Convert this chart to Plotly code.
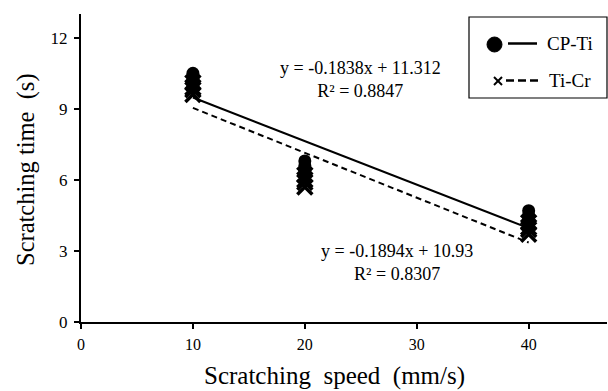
import plotly.graph_objects as go

# ---- data ----
speeds_cp = [10, 10, 10, 10, 20, 20, 20, 20, 40, 40, 40, 40]
times_cp = [10.5, 10.3, 10.1, 10.0, 6.8, 6.6, 6.4, 6.3, 4.7, 4.5, 4.3, 4.1]
speeds_ticr = [10, 10, 10, 10, 20, 20, 20, 20, 40, 40, 40, 40]
times_ticr = [10.1, 9.9, 9.8, 9.6, 6.2, 6.0, 5.9, 5.7, 4.2, 4.0, 3.9, 3.7]
fit_cp = (-0.1838, 11.312)
fit_ticr = (-0.1894, 10.93)
fit_x = [10, 40]
x_ticks = [0, 10, 20, 30, 40]
y_ticks = [0, 3, 6, 9, 12]
series_names = ["CP-Ti", "Ti-Cr"]
eq_texts = ["y = -0.1838x + 11.312<br>R² = 0.8847", "y = -0.1894x + 10.93<br>R² = 0.8307"]
x_title = "Scratching  speed  (mm/s)"
y_title = "Scratching time  (s)"

FONT = "Liberation Serif, Times New Roman, serif"

fig = go.Figure()

# trendlines
fig.add_trace(go.Scatter(x=fit_x, y=[fit_cp[0] * v + fit_cp[1] for v in fit_x],
                         mode="lines", line=dict(color="black", width=2),
                         showlegend=False, hoverinfo="skip"))
fig.add_trace(go.Scatter(x=fit_x, y=[fit_ticr[0] * v + fit_ticr[1] for v in fit_x],
                         mode="lines", line=dict(color="black", width=2, dash="6px,4px"),
                         showlegend=False, hoverinfo="skip"))

# points
fig.add_trace(go.Scatter(x=speeds_cp, y=times_cp, mode="markers", name=series_names[0],
                         marker=dict(symbol="circle", size=13, color="black"),
                         showlegend=False))
fig.add_trace(go.Scatter(x=speeds_ticr, y=times_ticr, mode="markers", name=series_names[1],
                         marker=dict(symbol="x-thin", size=15, color="black",
                                     line=dict(color="black", width=3.5)),
                         showlegend=False))

# equation annotations
fig.add_annotation(x=25.0, y=10.25, xref="x", yref="y", text=eq_texts[0], showarrow=False,
                   font=dict(family=FONT, size=18, color="black"), align="center")
fig.add_annotation(x=28.2, y=2.5, xref="x", yref="y", text=eq_texts[1], showarrow=False,
                   font=dict(family=FONT, size=18, color="black"), align="center")

# custom legend box (pixel positions converted to paper coords)
W, H = 608, 391
ml, mr, mt, mb = 81, 1, 14, 69
pw, ph = W - ml - mr, H - mt - mb

def px(xp):
    return (xp - ml) / pw

def py(yp):
    return (H - mb - yp) / ph

fig.add_shape(type="rect", xref="paper", yref="paper",
              x0=px(469), x1=px(607), y0=py(98), y1=py(17),
              line=dict(color="black", width=1.2), fillcolor="white")
# row 1: circle + solid line
fig.add_shape(type="circle", xref="paper", yref="paper",
              x0=px(487), x1=px(502), y0=py(52), y1=py(37),
              line=dict(color="black", width=1), fillcolor="black")
fig.add_shape(type="line", xref="paper", yref="paper",
              x0=px(508), x1=px(537), y0=py(43.5), y1=py(43.5),
              line=dict(color="black", width=2.5))
fig.add_annotation(x=px(545), y=py(44), xref="paper", yref="paper", text=series_names[0],
                   showarrow=False, xanchor="left", yanchor="middle",
                   font=dict(family=FONT, size=19, color="black"))
# row 2: cross + dashed line
fig.add_shape(type="line", xref="paper", yref="paper",
              x0=px(494), x1=px(502), y0=py(77), y1=py(85),
              line=dict(color="black", width=2))
fig.add_shape(type="line", xref="paper", yref="paper",
              x0=px(494), x1=px(502), y0=py(85), y1=py(77),
              line=dict(color="black", width=2))
fig.add_shape(type="line", xref="paper", yref="paper",
              x0=px(506), x1=px(540), y0=py(80.5), y1=py(80.5),
              line=dict(color="black", width=2.5, dash="8px,4px"))
fig.add_annotation(x=px(547), y=py(80), xref="paper", yref="paper", text=series_names[1],
                   showarrow=False, xanchor="left", yanchor="middle",
                   font=dict(family=FONT, size=19, color="black"))

# axis titles as annotations for exact placement
fig.add_annotation(x=px(334), y=py(376), xref="paper", yref="paper", text=x_title,
                   showarrow=False, xanchor="center", yanchor="middle",
                   font=dict(family=FONT, size=25, color="black"))
fig.add_annotation(x=px(26), y=py(170), xref="paper", yref="paper", text=y_title,
                   showarrow=False, xanchor="center", yanchor="middle", textangle=-90,
                   font=dict(family=FONT, size=24.5, color="black"))

fig.update_layout(
    width=W, height=H,
    margin=dict(l=ml, r=mr, t=mt, b=mb, pad=0),
    paper_bgcolor="white", plot_bgcolor="white",
    font=dict(family=FONT, color="black"),
)
fig.update_xaxes(range=[0, 47], tickvals=x_ticks, showgrid=False, zeroline=False,
                 showline=True, linecolor="black", linewidth=2,
                 ticks="outside", ticklen=5, tickwidth=2, tickcolor="black",
                 ticklabelstandoff=2,
                 tickfont=dict(family=FONT, size=16, color="black"))
fig.update_yaxes(range=[0, 13], tickvals=y_ticks, showgrid=False, zeroline=False,
                 showline=True, linecolor="black", linewidth=2,
                 ticks="outside", ticklen=5, tickwidth=2, tickcolor="black",
                 ticklabelstandoff=3,
                 tickfont=dict(family=FONT, size=17, color="black"))

fig.write_html("out.html")
